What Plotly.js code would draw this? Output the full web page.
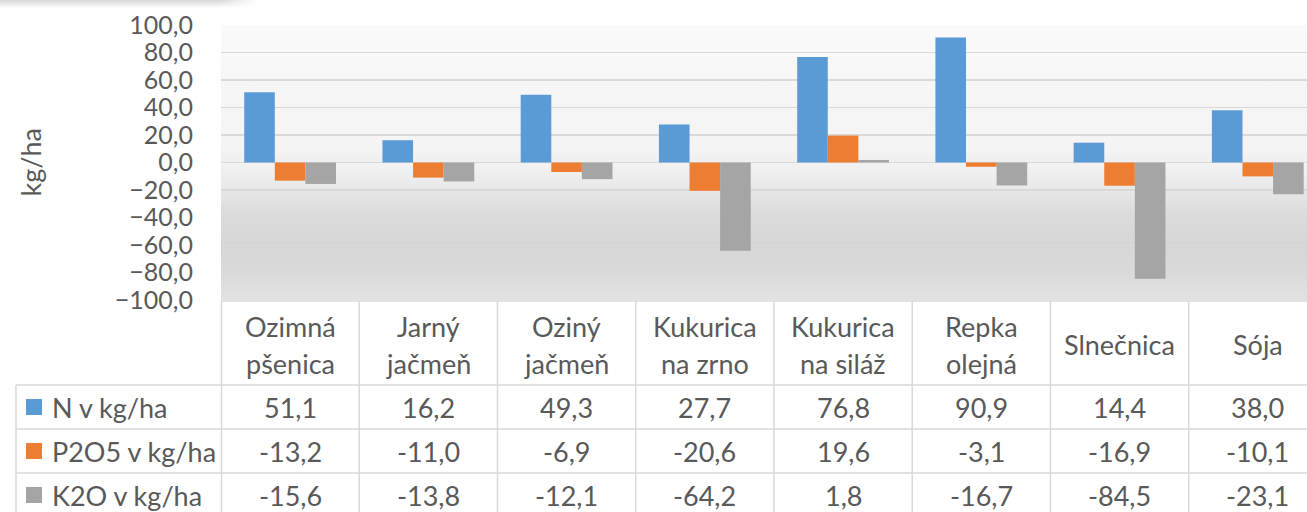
<!DOCTYPE html>
<html><head><meta charset="utf-8">
<script src="https://cdn.plot.ly/plotly-3.0.1.min.js"></script>
<style>html,body{margin:0;padding:0;background:#fff;}#chart{width:1307px;height:512px;}</style>
</head><body><div id="chart"></div>
<script>
const categories = ["Ozimná<br>pšenica","Jarný<br>jačmeň","Oziný<br>jačmeň","Kukurica<br>na zrno","Kukurica<br>na siláž","Repka<br>olejná","Slnečnica","Sója"];
const seriesNames = ["N v kg/ha","P2O5 v kg/ha","K2O v kg/ha"];
const nValues = [51.1,16.2,49.3,27.7,76.8,90.9,14.4,38.0];
const p2o5Values = [-13.2,-11.0,-6.9,-20.6,19.6,-3.1,-16.9,-10.1];
const k2oValues = [-15.6,-13.8,-12.1,-64.2,1.8,-16.7,-84.5,-23.1];
const yTicks = [-100,-80,-60,-40,-20,0,20,40,60,80,100];
const yTitle = "kg/ha";

const colors = ["#5b9bd5","#ed7d31","#a5a5a5"];
const series = [nValues, p2o5Values, k2oValues];
const FONT = "Lato, 'Open Sans', sans-serif";
const TXT = "#595959";
const FS = 27;
const GRID = "#d9d9d9";

// geometry helpers (pixel -> paper)
const L = 221, W = 1086, T = 25, H = 275;
const px = p => (p - L) / W;
const py = p => (T + H - p) / H;

const traces = series.map((vals, i) => ({
  type: "bar",
  name: seriesNames[i],
  x: categories,
  y: vals,
  marker: {color: colors[i]},
  showlegend: false,
  hoverinfo: "skip"
}));

const fmt = v => v.toFixed(1).replace(".", ",");

const annotations = [];
// y axis title
annotations.push({xref:"paper", yref:"paper", x: px(30), y: 0.5, text: yTitle, textangle: -90,
  showarrow:false, xanchor:"center", yanchor:"middle", font:{family:FONT,size:FS,color:TXT}});
// header row
categories.forEach((c, i) => {
  const lines = c.split("<br>");
  const ys = lines.length === 2 ? [326, 363] : [344];
  lines.forEach((ln, k) => {
    annotations.push({xref:"x", yref:"paper", x: i, y: py(ys[k]), text: ln, showarrow:false,
      xanchor:"center", yanchor:"middle", font:{family:FONT,size:FS,color:TXT}});
  });
});
// value rows
const rowY = [407, 451, 495];
series.forEach((vals, r) => {
  vals.forEach((v, i) => {
    annotations.push({xref:"x", yref:"paper", x: i, y: py(rowY[r]), text: fmt(v), showarrow:false,
      xanchor:"center", yanchor:"middle", font:{family:FONT,size:FS,color:TXT}});
  });
  annotations.push({xref:"paper", yref:"paper", x: px(50), y: py(rowY[r]), text: seriesNames[r], showarrow:false,
    xanchor:"left", yanchor:"middle", font:{family:FONT,size:FS,color:TXT}});
});

const shapes = [];
const ln = {color: GRID, width: 1.5};
// horizontal table lines
shapes.push({type:"line", xref:"paper", yref:"paper", x0:0, x1:1, y0:py(301), y1:py(301), line:ln});
[385, 429, 473].forEach(yv => shapes.push({type:"line", xref:"paper", yref:"paper", x0:px(16), x1:1, y0:py(yv), y1:py(yv), line:ln}));
// vertical table lines
shapes.push({type:"line", xref:"paper", yref:"paper", x0:px(16), x1:px(16), y0:py(385), y1:py(530), line:ln});
shapes.push({type:"line", xref:"paper", yref:"paper", x0:px(221.5), x1:px(221.5), y0:py(301), y1:py(530), line:ln});
for (let i = 1; i <= categories.length; i++) {
  shapes.push({type:"line", xref:"x", yref:"paper", x0:i-0.5, x1:i-0.5, y0:py(301), y1:py(530), line:ln});
}
// legend keys
rowY.forEach((yv, r) => {
  shapes.push({type:"rect", xref:"paper", yref:"paper", x0:px(26), x1:px(42), y0:py(yv-8), y1:py(yv+8),
    fillcolor: colors[r], line:{width:0}});
});

const bgSvg = '<svg xmlns="http://www.w3.org/2000/svg" width="100" height="100" viewBox="0 0 100 100" preserveAspectRatio="none">' +
  '<defs><linearGradient id="g" x1="0" y1="0" x2="0" y2="1">' +
  '<stop offset="0" stop-color="#fafafa"/>' +
  '<stop offset="0.3" stop-color="#f5f5f5"/>' +
  '<stop offset="0.45" stop-color="#f4f4f4"/>' +
  '<stop offset="0.5" stop-color="#efefef"/>' +
  '<stop offset="0.505" stop-color="#f2f2f2"/>' +
  '<stop offset="0.6" stop-color="#e8e8e8"/>' +
  '<stop offset="0.68" stop-color="#dcdcdc"/>' +
  '<stop offset="0.8" stop-color="#d6d6d6"/>' +
  '<stop offset="0.9" stop-color="#dadada"/>' +
  '<stop offset="1" stop-color="#e2e2e2"/>' +
  '</linearGradient></defs><rect width="100" height="100" fill="url(#g)"/></svg>';

const shadowSvg = '<svg xmlns="http://www.w3.org/2000/svg" width="100" height="100" viewBox="0 0 100 100" preserveAspectRatio="none">' +
  '<defs><linearGradient id="s" x1="0" y1="0" x2="0" y2="1">' +
  '<stop offset="0" stop-color="#000" stop-opacity="0.16"/>' +
  '<stop offset="1" stop-color="#000" stop-opacity="0"/>' +
  '</linearGradient><linearGradient id="m" x1="0" y1="0" x2="1" y2="0">' +
  '<stop offset="0.85" stop-color="#fff" stop-opacity="1"/>' +
  '<stop offset="1" stop-color="#fff" stop-opacity="0"/>' +
  '</linearGradient><mask id="mk"><rect width="100" height="100" fill="url(#m)"/></mask></defs>' +
  '<rect width="100" height="100" fill="url(#s)" mask="url(#mk)"/></svg>';

const images = [
  {source: "data:image/svg+xml;charset=utf-8," + encodeURIComponent(bgSvg), xref:"paper", yref:"paper",
   x:0, y:1, sizex:1, sizey:1, xanchor:"left", yanchor:"top", sizing:"stretch", layer:"below"},
  {source: "data:image/svg+xml;charset=utf-8," + encodeURIComponent(shadowSvg), xref:"paper", yref:"paper",
   x:px(0), y:py(0), sizex:px(258)-px(0), sizey:8/H, xanchor:"left", yanchor:"top", sizing:"stretch", layer:"above"}
];

const layout = {
  width: 1307, height: 512,
  margin: {l: L, r: 0, t: T, b: 512 - T - H, pad: 0},
  paper_bgcolor: "#ffffff",
  plot_bgcolor: "rgba(0,0,0,0)",
  separators: ",.",
  barmode: "group",
  bargap: 0.336,
  bargroupgap: 0,
  font: {family: FONT, size: FS, color: TXT},
  xaxis: {type:"category", range:[-0.5, 7.356], showticklabels:false, showgrid:false, zeroline:false,
          showline:false, ticks:"", fixedrange:true},
  yaxis: {range:[-100, 100], tickvals: yTicks, tickformat: ".1f", showgrid:true, gridcolor: GRID, gridwidth:1.5,
          zeroline:true, zerolinecolor: GRID, zerolinewidth:1.5, showline:false, ticks:"",
          ticklabelstandoff: 27, tickfont:{family:FONT, size:25, color:TXT}, fixedrange:true},
  annotations, shapes, images
};

Plotly.newPlot("chart", traces, layout, {staticPlot:true, displayModeBar:false});
</script></body></html>
